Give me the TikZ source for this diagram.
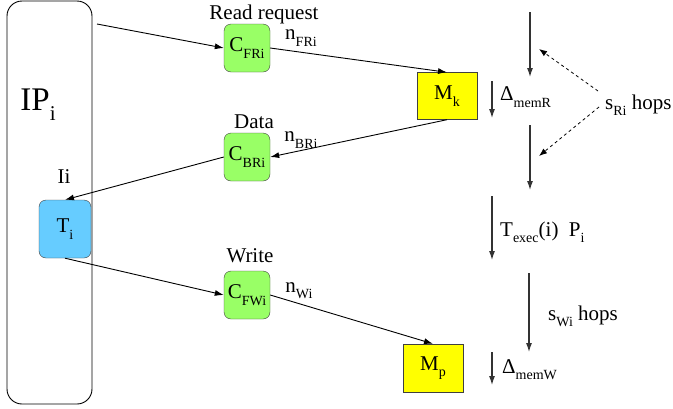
\documentclass[tikz,border=0pt]{standalone}
\usepackage{fontspec}
\setmainfont{Liberation Serif}
\usetikzlibrary{arrows.meta,positioning}

\definecolor{chgreen}{HTML}{99FF66}
\definecolor{taskblue}{HTML}{66CCFF}
\definecolor{memyellow}{HTML}{FFFF00}
\newcommand{\lowsub}[1]{\raisebox{-0.3em}{\fontsize{14}{14}\selectfont #1}}

\begin{document}
\begin{tikzpicture}[x=1pt,y=-1pt,
    every node/.style={font=\fontsize{21}{24}\selectfont, inner sep=1pt},
    chan/.style={draw=black!75, fill=chgreen, rounded corners=7pt,
      minimum width=46pt, minimum height=48pt, inner sep=0pt},
    mem/.style={draw=black!75, fill=memyellow, minimum width=60pt,
      minimum height=47pt, inner sep=0pt},
    arr/.style={-{Latex[length=9pt,width=6pt]}, line width=0.9pt},
    tline/.style={-{Latex[length=9pt,width=6pt]}, line width=1.1pt, black!80},
    dasharr/.style={-{Latex[length=8pt,width=6pt]}, dashed, line width=0.8pt}]
    \useasboundingbox (0,0) rectangle (673,408);

    %%% processor column
    \node[draw, line width=0.9pt, rounded corners=15pt, minimum width=85pt,
      minimum height=403pt] (ip) at (49.5,202.5) {};
    \node[font=\fontsize{33}{36}\selectfont] (iplabel) at (38,105)
      {IP\raisebox{-0.3em}{\fontsize{21}{21}\selectfont i}};
    \node[draw=black!75, fill=taskblue, rounded corners=7pt, minimum width=52pt,
      minimum height=58pt, inner sep=0pt] (ti) at (65,229) {T\lowsub{i}};
    \node (ii) at (64,177) {Ii};

    %%% channels
    \node[chan] (cfr) at (247,48) {C\lowsub{FRi}};
    \node[chan] (cbr) at (247,157) {C\lowsub{BRi}};
    \node[chan] (cfw) at (247,295) {C\lowsub{FWi}};
    \node[inner sep=0pt] (readreq) at (264,14) {Read request};
    \node (data) at (254,122) {Data};
    \node (write) at (250,256) {Write};
    \node[inner sep=0pt] (nfr) at (301,38) {n\lowsub{FRi}};
    \node (nbr) at (301,140) {n\lowsub{BRi}};
    \node (nw) at (299,291) {n\lowsub{Wi}};

    %%% memories
    \node[mem] (mk) at (447,96) {M\lowsub{k}};
    \node[mem, minimum height=48pt] (mp) at (433,368) {M\lowsub{p}};

    %%% paths
    \coordinate (rq) at (97,24);
    \draw[arr] (rq) -- (cfr.west);
    \draw[arr] (cfr.east) -- (mk.north);
    \draw[arr] (mk.south) -- (cbr.east);
    \draw[arr] (cbr.west) -- (ti.north);
    \draw[arr] (ti.south) -- (cfw.west);
    \draw[arr] (cfw.east) -- (mp.north);

    %%% time line
    \coordinate (dr1) at (492,81);  \coordinate (dr2) at (492,118);
    \coordinate (hr1) at (530,12);  \coordinate (hr2) at (530,77);
    \coordinate (hr3) at (530,125); \coordinate (hr4) at (530,190);
    \coordinate (ex1) at (492,196); \coordinate (ex2) at (492,260);
    \coordinate (hw1) at (529,273); \coordinate (hw2) at (529,352);
    \coordinate (dw1) at (492,352); \coordinate (dw2) at (492,385);
    \draw[tline] (dr1) -- (dr2);
    \draw[tline] (hr1) -- (hr2);
    \draw[tline] (hr3) -- (hr4);
    \draw[tline] (ex1) -- (ex2);
    \draw[tline] (hw1) -- (hw2);
    \draw[tline] (dw1) -- (dw2);

    \node[anchor=west] (dmemr) at (499,97) {Δ\lowsub{memR}};
    \node[anchor=west] (dmemw) at (501,370) {Δ\lowsub{memW}};
    \node[anchor=west] (texec) at (499,232) {T\lowsub{exec}(i)\ \ P\lowsub{i}};
    \node[anchor=west] (swi) at (547,316) {s\lowsub{Wi} hops};
    \node[anchor=west, inner sep=0pt] (sri) at (605,105) {s\lowsub{Ri} hops};

    \coordinate (sr1) at (539,49);
    \coordinate (sr2) at (539,156);
    \draw[dasharr] ([xshift=-7pt,yshift=14pt]sri.west) -- (sr1);
    \draw[dasharr] ([xshift=-6pt,yshift=-2pt]sri.west) -- (sr2);
\end{tikzpicture}
\end{document}
